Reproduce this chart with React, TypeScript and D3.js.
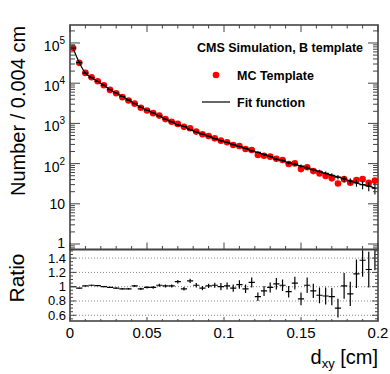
import React from 'react';
import * as d3 from 'd3';

// histogram binning (cm)
const binWidth = 0.004;

// MC template (red points), entries per bin
const mcValues = [
  75000, 32000, 18000, 14000, 11200, 8900, 6800, 5600, 4500, 3700,
  3100, 2450, 2100, 1800, 1560, 1280, 1100, 970, 820, 760,
  625, 535, 485, 425, 372, 340, 290, 274, 231, 218,
  164, 157, 149, 132, 123, 98, 101, 73, 81, 65,
  57, 49, 43, 32, 41, 33.5, 39, 41, 33.5, 37.6,
];

// fit function evaluated at bin centres
const fitValues = [
  75000, 32500, 17800, 13700, 11000, 8900, 6900, 5700, 4650, 3800,
  3070, 2520, 2120, 1820, 1530, 1270, 1090, 910, 840, 700,
  610, 545, 480, 417, 371, 336, 296, 266, 238, 206,
  190, 167, 150, 128, 120, 104, 96, 87, 78, 70,
  63, 57, 51.5, 46, 41.5, 37, 33, 30, 27.5, 24.5,
];

// lower pad: MC / fit
const ratioValues = [
  1.0, 0.98, 1.01, 1.02, 1.015, 1.0, 0.99, 0.98, 0.97, 0.97,
  1.01, 0.97, 0.99, 0.99, 1.02, 1.01, 1.01, 1.07, 0.97, 1.08,
  1.02, 0.98, 1.01, 1.02, 1.0, 1.01, 0.98, 1.03, 0.97, 1.06,
  0.86, 0.94, 0.99, 1.04, 1.02, 0.93, 1.05, 0.83, 1.02, 0.94,
  0.88, 0.87, 0.86, 0.7, 1.01, 0.9, 1.18, 1.37, 1.24, 1.53,
];
const ratioErrors = [
  0.006, 0.006, 0.006, 0.006, 0.006, 0.008, 0.008, 0.008, 0.01, 0.01,
  0.015, 0.015, 0.015, 0.02, 0.02, 0.02, 0.02, 0.025, 0.025, 0.03,
  0.03, 0.03, 0.03, 0.035, 0.05, 0.05, 0.05, 0.06, 0.06, 0.07,
  0.06, 0.07, 0.07, 0.08, 0.08, 0.08, 0.09, 0.09, 0.11, 0.1,
  0.11, 0.12, 0.12, 0.13, 0.18, 0.17, 0.2, 0.23, 0.25, 0.3,
];

const xTicks = [0, 0.05, 0.1, 0.15, 0.2];
const xTickLabels = ['0', '0.05', '0.1', '0.15', '0.2'];
const yDecades = [0, 1, 2, 3, 4, 5];
const ratioTicks = [0.6, 0.8, 1, 1.2, 1.4];
const ratioTickLabels = ['0.6', '0.8', '1', '1.2', '1.4'];

const FONT = '"Liberation Sans", Arial, Helvetica, sans-serif';

export default function App() {
  const W = 390, H = 374;
  const left = 70, right = 378, top = 25, split = 249.5, bottom = 321;

  const x = d3.scaleLinear().domain([0, 0.2]).range([left, right]);
  const y = d3.scaleLog().domain([0.73, 2.8e5]).range([split, top]);
  const yr = d3.scaleLinear().domain([0.52, 1.52]).range([bottom, split]);

  const centers = mcValues.map((_, i) => (i + 0.5) * binWidth);
  const frame = '#444';

  const fitLine = d3.line<number>()
    .x((_, i) => x(centers[i]))
    .y(d => y(d))
    .curve(d3.curveMonotoneX)(fitValues);

  const xMinor = d3.range(0, 0.2001, 0.01);
  const yMinor: number[] = [];
  [0.1, 1, 10, 100, 1000, 10000, 100000].forEach(dec => {
    for (let k = 2; k <= 9; k++) {
      const v = dec * k;
      if (v >= 0.73 && v <= 2.8e5) yMinor.push(v);
    }
  });
  const rMinor = d3.range(0.55, 1.51, 0.05);

  return (
    <svg width={W} height={H} style={{ position: 'absolute', left: 0, top: 0 }} fontFamily={FONT}>
      <defs>
        <clipPath id="upClip"><rect x={left} y={top} width={right - left} height={split - top} /></clipPath>
        <clipPath id="loClip"><rect x={left} y={split} width={right - left} height={bottom - split} /></clipPath>
      </defs>
      <rect width={W} height={H} fill="#fff" />

      {/* ratio grid */}
      {ratioTicks.map(t => (
        <line key={'g' + t} x1={left} x2={right} y1={yr(t)} y2={yr(t)}
          stroke="#888" strokeWidth={1} strokeDasharray="1,2" />
      ))}

      {/* upper pad marks */}
      <g clipPath="url(#upClip)">
        {mcValues.map((v, i) => (
          <circle key={'m' + i} cx={x(centers[i])} cy={y(v)} r={3.3} fill="#ff0000" />
        ))}
        {fitValues.map((v, i) => {
          const e = v * ratioErrors[i];
          return (
            <g key={'c' + i} stroke="#000" strokeWidth={1.1}>
              <line x1={x(centers[i] - binWidth / 2)} x2={x(centers[i] + binWidth / 2)} y1={y(v)} y2={y(v)} />
              <line x1={x(centers[i])} x2={x(centers[i])} y1={y(v + e)} y2={y(v - e)} />
            </g>
          );
        })}
        <path d={fitLine ?? ''} fill="none" stroke="#000" strokeWidth={1.2} />
      </g>

      {/* lower pad marks */}
      <g clipPath="url(#loClip)" stroke="#000" strokeWidth={1.2}>
        {ratioValues.map((r, i) => (
          <g key={'r' + i}>
            <line x1={x(centers[i] - binWidth / 2)} x2={x(centers[i] + binWidth / 2)} y1={yr(r)} y2={yr(r)} />
            <line x1={x(centers[i])} x2={x(centers[i])} y1={yr(r + ratioErrors[i])} y2={yr(r - ratioErrors[i])} />
          </g>
        ))}
      </g>

      {/* ticks */}
      <g stroke={frame} strokeWidth={1}>
        {xMinor.map((t, i) => {
          const major = i % 5 === 0;
          const px = x(t);
          return (
            <g key={'xt' + i}>
              <line x1={px} x2={px} y1={split} y2={split - (major ? 7 : 3.5)} />
              <line x1={px} x2={px} y1={top} y2={top + (major ? 7 : 3.5)} />
              <line x1={px} x2={px} y1={bottom} y2={bottom - (major ? 4 : 2)} />
            </g>
          );
        })}
        {yDecades.map(d => (
          <g key={'yd' + d}>
            <line x1={left} x2={left + 10} y1={y(10 ** d)} y2={y(10 ** d)} />
            <line x1={right} x2={right - 10} y1={y(10 ** d)} y2={y(10 ** d)} />
          </g>
        ))}
        {yMinor.map((v, i) => (
          <g key={'ym' + i}>
            <line x1={left} x2={left + 5} y1={y(v)} y2={y(v)} />
            <line x1={right} x2={right - 5} y1={y(v)} y2={y(v)} />
          </g>
        ))}
        {rMinor.map((v, i) => {
          const major = Math.abs(Math.round(v * 5) - v * 5) < 1e-6;
          const l = major ? 6 : 3;
          return (
            <g key={'rm' + i}>
              <line x1={left} x2={left + l} y1={yr(v)} y2={yr(v)} />
              <line x1={right} x2={right - l} y1={yr(v)} y2={yr(v)} />
            </g>
          );
        })}
      </g>

      {/* frames */}
      <rect x={left} y={top} width={right - left} height={split - top} fill="none" stroke={frame} strokeWidth={1.6} />
      <rect x={left} y={split} width={right - left} height={bottom - split} fill="none" stroke={frame} strokeWidth={1.6} />

      {/* y labels upper */}
      {yDecades.map(d => {
        const py = y(10 ** d);
        if (d === 0) return <text key={'yl' + d} x={65} y={py + 4} textAnchor="end" fontSize={14}>1</text>;
        if (d === 1) return <text key={'yl' + d} x={65} y={py + 5} textAnchor="end" fontSize={14}>10</text>;
        return (
          <text key={'yl' + d} x={65} y={py + 8} textAnchor="end" fontSize={14}>
            10<tspan dy={-7} fontSize={10}>{d}</tspan>
          </text>
        );
      })}

      {/* ratio labels */}
      {ratioTicks.map((t, i) => (
        <text key={'rl' + i} x={66} y={yr(t) + 4.5} textAnchor="end" fontSize={13}>{ratioTickLabels[i]}</text>
      ))}

      {/* x labels */}
      {xTicks.map((t, i) => (
        <text key={'xl' + i} x={x(t)} y={338} textAnchor="middle" fontSize={15}>{xTickLabels[i]}</text>
      ))}

      {/* axis titles */}
      <text transform={`translate(25,${(top + 197) / 2}) rotate(-90)`} textAnchor="middle" fontSize={20}>Number / 0.004 cm</text>
      <text transform="translate(24,278) rotate(-90)" textAnchor="middle" fontSize={21}>Ratio</text>
      <text x={378} y={364} textAnchor="end" fontSize={20}>
        d<tspan dy={4} fontSize={13}>xy</tspan><tspan dy={-4}> [cm]</tspan>
      </text>

      {/* legend */}
      <text x={363} y={52} textAnchor="end" fontSize={12.5} fontWeight="bold">CMS Simulation, B template</text>
      <circle cx={216} cy={75} r={3.3} fill="#ff0000" />
      <text x={237} y={79.5} fontSize={12.5} fontWeight="bold">MC Template</text>
      <line x1={202} x2={230} y1={102} y2={102} stroke="#000" strokeWidth={1.2} />
      <text x={237} y={106.5} fontSize={12.5} fontWeight="bold">Fit function</text>
    </svg>
  );
}
